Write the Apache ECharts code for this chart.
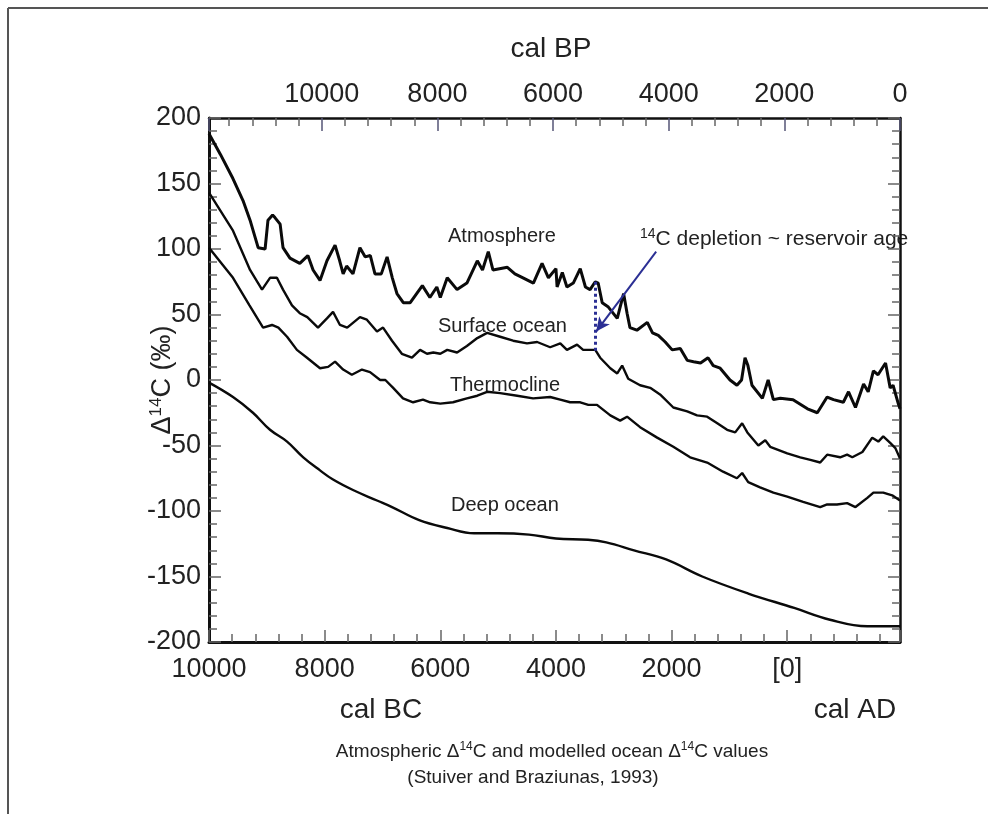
<!DOCTYPE html>
<html>
<head>
<meta charset="utf-8">
<script src="https://cdn.jsdelivr.net/npm/echarts@6/dist/echarts.min.js"></script>
<style>html,body{margin:0;padding:0;background:#fff}#c{width:988px;height:814px}</style>
</head>
<body>
<div id="c"></div>
<script>
// ---------- data (cal AD years, negative = BC; Delta14C in permil) ----------
const atmYears = [-10000,-9800,-9600,-9412,-9290,-9150,-9030,-8980,-8900,-8860,-8770,-8720,-8600,-8430,-8290,-8200,-8080,-7960,-7820,-7740,-7680,-7620,-7510,-7390,-7300,-7210,-7130,-7020,-6920,-6830,-6750,-6640,-6520,-6310,-6180,-6060,-6000,-5880,-5710,-5540,-5360,-5270,-5170,-5090,-4840,-4710,-4570,-4390,-4320,-4240,-4130,-4000,-3980,-3890,-3810,-3700,-3580,-3490,-3410,-3320,-3270,-3200,-3100,-2940,-2830,-2770,-2720,-2600,-2420,-2330,-2230,-2110,-1990,-1850,-1730,-1620,-1500,-1370,-1280,-1160,-990,-870,-790,-730,-680,-610,-430,-330,-240,-120,100,350,520,690,800,970,1060,1180,1320,1400,1490,1570,1700,1780,1830,1920,1950];
const atmValues = [188,172,155,137,122,101,100,122,126,124,119,101,93,89,95,84,76,91,103,91,81,87,81,101,94,95,81,81,94,78,66,59,59,72,63,71,63,78,69,74,91,84,98,84,86,81,78,74,81,89,78,85,71,82,71,74,85,71,69,75,74,59,56,47,66,51,40,38,44,36,34,29,23,24,15,14,13,17,11,9,0,-4,0,17,11,-4,-14,0,-15,-14,-15,-22,-25,-13,-15,-17,-9,-21,-3,-9,7,4,13,-6,-4,-18,-22];

const surfYears = [-10000,-9585,-9290,-9083,-8945,-8825,-8720,-8565,-8430,-8300,-8115,-7960,-7855,-7735,-7610,-7390,-7270,-7095,-6990,-6835,-6665,-6490,-6350,-6230,-6120,-6000,-5880,-5710,-5540,-5360,-5190,-4965,-4740,-4500,-4325,-4100,-3925,-3810,-3635,-3530,-3320,-3235,-3060,-2940,-2855,-2750,-2545,-2370,-2200,-1970,-1730,-1560,-1385,-1210,-1040,-900,-780,-690,-500,-380,-295,0,225,400,570,690,915,1035,1125,1300,1470,1575,1660,1780,1870,1950];
const surfValues = [143,114,84,69,78,78,69,57,51,48,40,47,52,42,40,48,46,37,40,30,20,17,23,20,21,20,23,21,26,32,36,33,30,28,29,25,28,23,27,23,23,17,9,5,11,1,-4,-6,-11,-21,-24,-27,-28,-33,-38,-40,-33,-40,-50,-46,-51,-56,-59,-61,-63,-57,-59,-57,-59,-55,-44,-47,-43,-48,-52,-60];

const thermYears = [-10000,-9585,-9300,-9065,-8910,-8800,-8650,-8480,-8305,-8080,-7940,-7820,-7680,-7530,-7355,-7215,-7040,-6950,-6815,-6645,-6470,-6300,-6175,-6000,-5780,-5540,-5360,-5190,-4965,-4670,-4395,-4100,-3925,-3755,-3580,-3440,-3290,-3060,-2890,-2770,-2545,-2250,-1970,-1680,-1385,-1110,-870,-780,-675,-470,-240,0,275,570,690,860,1035,1180,1385,1490,1660,1815,1950];
const thermValues = [101,78,57,40,42,40,33,23,17,9,10,14,8,4,8,6,0,0,-6,-14,-17,-15,-17,-18,-17,-14,-12,-9,-10,-12,-14,-13,-15,-17,-17,-19,-19,-27,-31,-28,-36,-44,-51,-59,-63,-70,-75,-71,-78,-82,-86,-89,-93,-97,-95,-95,-94,-97,-90,-86,-86,-88,-92];

const deepYears = [-10000,-9585,-9240,-8945,-8650,-8370,-8080,-7855,-7510,-7095,-6835,-6365,-5880,-5415,-5015,-4465,-4000,-3445,-3130,-2650,-2095,-1470,-675,120,740,1385,1700,1950];
const deepValues = [-2,-13,-25,-38,-47,-59,-69,-76,-84,-92,-97,-107,-113,-117,-117,-118,-121,-122,-124,-130,-137,-150,-163,-174,-183,-188,-188,-188];

// tick labels
const bcTickValues = [-10000,-8000,-6000,-4000,-2000,0];
const bcTickLabels = ['10000','8000','6000','4000','2000','[0]'];
const bpTickValues = [0,2000,4000,6000,8000,10000];
const bpTickLabels = ['0','2000','4000','6000','8000','10000'];

// annotation anchors (data coordinates)
const depletionYear = -3320, depletionTop = 75, depletionBottom = 21;
const arrowFrom = [-2267, 98], arrowTo = [-3305, 37];

const FONT = '"Liberation Sans", Arial, Helvetica, sans-serif';
const INK = '#222';
const BLUE = '#2b2f94';
const X_MIN = -10000, X_MAX = 1950;

const zip = (a, b) => a.map((v, i) => [v, b[i]]);

const chart = echarts.init(document.getElementById('c'), null, {renderer: 'canvas'});

const tickCommon = {
  axisLine: {show: true, onZero: false, lineStyle: {color: '#111', width: 3}},
  axisTick: {show: true, inside: true, length: 12, lineStyle: {color: '#666', width: 1.5}},
  minorTick: {show: true, splitNumber: 5, length: 8, lineStyle: {color: '#666', width: 1.5}},
  splitLine: {show: false},
  minorSplitLine: {show: false}
};

const option = {
  animation: false,
  backgroundColor: '#fff',
  grid: {left: 209, right: 88, top: 118, bottom: 172, containLabel: false},
  xAxis: [
    Object.assign({}, tickCommon, {
      type: 'value', position: 'bottom', min: X_MIN, max: X_MAX, interval: 2000,
      axisLabel: {
        showMaxLabel: false, margin: 14, fontSize: 27, color: INK, fontFamily: FONT,
        formatter: v => { const i = bcTickValues.indexOf(v); return i >= 0 ? bcTickLabels[i] : ''; }
      }
    }),
    Object.assign({}, tickCommon, {
      type: 'value', position: 'top', min: 0, max: 1950 - X_MIN, inverse: true, interval: 2000,
      axisLine: {show: true, onZero: false, lineStyle: {color: '#111', width: 2.5}},
      axisTick: {show: true, inside: true, length: 13, lineStyle: {color: '#557', width: 1.5}},
      axisLabel: {
        showMaxLabel: false, margin: 10, fontSize: 27, color: INK, fontFamily: FONT,
        formatter: v => { const i = bpTickValues.indexOf(v); return i >= 0 ? bpTickLabels[i] : ''; }
      }
    })
  ],
  yAxis: [
    Object.assign({}, tickCommon, {
      type: 'value', position: 'left', min: -200, max: 200, interval: 50,
      axisLabel: {margin: 8, fontSize: 27, color: INK, fontFamily: FONT},
      name: '{a|Δ}{s|14}{a|C (‰)}',
      nameLocation: 'middle', nameRotate: 90, nameGap: 31, nameMoveOverlap: false,
      nameTextStyle: {
        fontFamily: FONT, color: INK, fontSize: 27,
        rich: {
          a: {fontFamily: FONT, color: INK, fontSize: 27, lineHeight: 30},
          s: {fontFamily: FONT, color: INK, fontSize: 17, lineHeight: 17, verticalAlign: 'top'}
        }
      }
    }),
    Object.assign({}, tickCommon, {
      type: 'value', position: 'right', min: -200, max: 200, interval: 50,
      axisLine: {show: true, onZero: false, lineStyle: {color: '#111', width: 2.5}},
      axisLabel: {show: false}
    })
  ],
  series: [
    {
      name: 'Atmosphere', type: 'line', xAxisIndex: 0, yAxisIndex: 0,
      showSymbol: false, symbol: 'none', silent: true,
      lineStyle: {color: '#0a0a0a', width: 3},
      data: zip(atmYears, atmValues),
      markLine: {
        silent: true, animation: false, symbol: ['none', 'none'], label: {show: false},
        data: [
          [
            {coord: [depletionYear, depletionTop], lineStyle: {color: BLUE, width: 3, type: [3, 3]}},
            {coord: [depletionYear, depletionBottom]}
          ],
          [
            {coord: arrowFrom, lineStyle: {color: BLUE, width: 2, type: 'solid'}},
            {coord: arrowTo, symbol: 'arrow', symbolSize: [10, 14]}
          ]
        ]
      }
    },
    {
      name: 'Surface ocean', type: 'line', xAxisIndex: 0, yAxisIndex: 0,
      showSymbol: false, symbol: 'none', silent: true,
      lineStyle: {color: '#0a0a0a', width: 2.4},
      data: zip(surfYears, surfValues)
    },
    {
      name: 'Thermocline', type: 'line', xAxisIndex: 0, yAxisIndex: 0,
      showSymbol: false, symbol: 'none', silent: true,
      lineStyle: {color: '#0a0a0a', width: 2.4},
      data: zip(thermYears, thermValues)
    },
    {
      name: 'Deep ocean', type: 'line', xAxisIndex: 0, yAxisIndex: 0,
      showSymbol: false, symbol: 'none', silent: true, smooth: 0.4,
      lineStyle: {color: '#0a0a0a', width: 2.4},
      data: zip(deepYears, deepValues)
    }
  ],
  graphic: [
    {type: 'line', silent: true, shape: {x1: 8, y1: 8, x2: 988, y2: 8}, style: {stroke: '#555', lineWidth: 2}},
    {type: 'line', silent: true, shape: {x1: 8, y1: 8, x2: 8, y2: 814}, style: {stroke: '#555', lineWidth: 2}},
    {type: 'text', silent: true, style: {text: 'cal BP', x: 551, y: 49, align: 'center', verticalAlign: 'middle', fontSize: 28, fontFamily: FONT, fill: INK}},
    {type: 'text', silent: true, style: {text: 'cal BC', x: 381, y: 710, align: 'center', verticalAlign: 'middle', fontSize: 28, fontFamily: FONT, fill: INK}},
    {type: 'text', silent: true, style: {text: 'cal AD', x: 855, y: 710, align: 'center', verticalAlign: 'middle', fontSize: 28, fontFamily: FONT, fill: INK}},
    {type: 'text', silent: true, style: {text: 'Atmosphere', x: 448, y: 236, align: 'left', verticalAlign: 'middle', fontSize: 20, fontFamily: FONT, fill: INK}},
    {type: 'text', silent: true, style: {text: 'Surface ocean', x: 438, y: 326, align: 'left', verticalAlign: 'middle', fontSize: 20, fontFamily: FONT, fill: INK}},
    {type: 'text', silent: true, style: {text: 'Thermocline', x: 450, y: 385, align: 'left', verticalAlign: 'middle', fontSize: 20, fontFamily: FONT, fill: INK}},
    {type: 'text', silent: true, style: {text: 'Deep ocean', x: 451, y: 505, align: 'left', verticalAlign: 'middle', fontSize: 20, fontFamily: FONT, fill: INK}},
    {type: 'text', silent: true, style: {
      text: '{s|14}{t|C depletion ~ reservoir age}', x: 640, y: 239, align: 'left', verticalAlign: 'middle',
      rich: {
        t: {fontSize: 21, fontFamily: FONT, fill: INK, lineHeight: 24},
        s: {fontSize: 14, fontFamily: FONT, fill: INK, lineHeight: 14, verticalAlign: 'top'}
      }
    }},
    {type: 'text', silent: true, style: {
      text: '{t|Atmospheric Δ}{s|14}{t|C and modelled ocean Δ}{s|14}{t|C values}', x: 552, y: 752, align: 'center', verticalAlign: 'middle',
      rich: {
        t: {fontSize: 19, fontFamily: FONT, fill: INK, lineHeight: 22},
        s: {fontSize: 12, fontFamily: FONT, fill: INK, lineHeight: 12, verticalAlign: 'top'}
      }
    }},
    {type: 'text', silent: true, style: {text: '(Stuiver and Braziunas, 1993)', x: 533, y: 778, align: 'center', verticalAlign: 'middle', fontSize: 19, fontFamily: FONT, fill: INK}}
  ]
};

chart.setOption(option);
</script>
</body>
</html>
